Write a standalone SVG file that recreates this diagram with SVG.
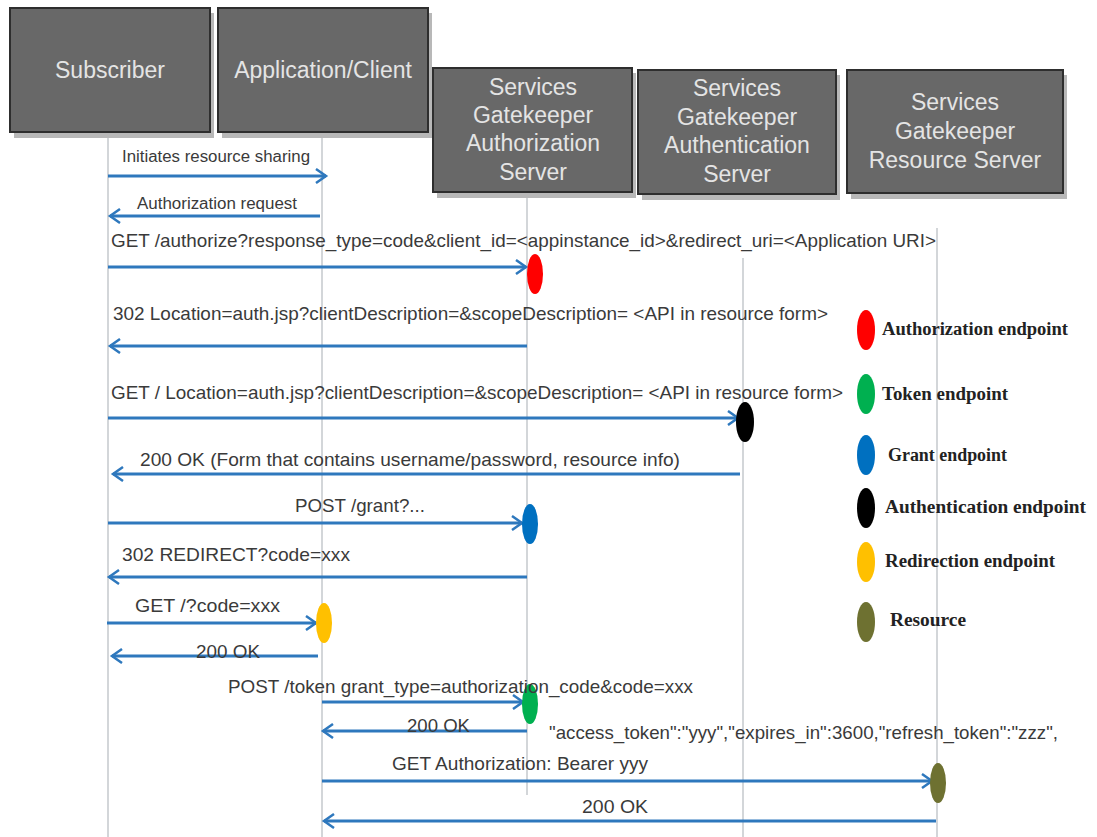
<svg xmlns="http://www.w3.org/2000/svg" width="1097" height="837" viewBox="0 0 1097 837">
<defs>
<style>
.box{fill:#686868;stroke:#2e2e2e;stroke-width:2}
.shadow{fill:#b8b8b8}
.bt{font-family:"Liberation Sans",Arial,sans-serif;font-size:23px;fill:#e4e4e4;text-anchor:middle}
.life{stroke:#c4c8cc;stroke-width:1.5;fill:none}
.msg{stroke:#2e78bd;stroke-width:3;fill:none}
.lbl{font-family:"Liberation Sans",Arial,sans-serif;font-size:19px;fill:#3a3a3a}
.sm{font-size:16px}
.leg{font-family:"Liberation Serif","Times New Roman",serif;font-size:18px;font-weight:bold;fill:#222}
</style>
<marker id="ah" markerWidth="14" markerHeight="16" refX="11" refY="8" orient="auto-start-reverse" markerUnits="userSpaceOnUse">
<path d="M1,1 L11,8 L1,15" fill="none" stroke="#2e78bd" stroke-width="2.5"/>
</marker>
</defs>
<rect width="1097" height="837" fill="#ffffff"/>

<g id="lifelines">
<line class="life" x1="108" y1="135" x2="108" y2="837"/>
<line class="life" x1="322" y1="135" x2="322" y2="837"/>
<line class="life" x1="527" y1="195" x2="527" y2="795"/>
<line class="life" x1="743" y1="258" x2="743" y2="837"/>
<line class="life" x1="937" y1="228" x2="937" y2="837"/>
</g>

<g id="subscriber">
<rect class="shadow" x="14" y="13" width="200" height="125"/>
<rect class="box" x="10" y="8" width="200" height="124"/>
<text class="bt" x="110" y="78">Subscriber</text>
</g>
<g id="client">
<rect class="shadow" x="222" y="13" width="210" height="125"/>
<rect class="box" x="218" y="8" width="210" height="124"/>
<text class="bt" x="323" y="78">Application/Client</text>
</g>
<g id="authz">
<rect class="shadow" x="437" y="73" width="199" height="125"/>
<rect class="box" x="433" y="68" width="199" height="124"/>
<text class="bt" x="533" y="95">Services</text>
<text class="bt" x="533" y="123">Gatekeeper</text>
<text class="bt" x="533" y="151">Authorization</text>
<text class="bt" x="533" y="180">Server</text>
</g>
<g id="authn">
<rect class="shadow" x="642" y="75" width="198" height="125"/>
<rect class="box" x="638" y="70" width="198" height="124"/>
<text class="bt" x="737" y="96">Services</text>
<text class="bt" x="737" y="125">Gatekeeper</text>
<text class="bt" x="737" y="153">Authentication</text>
<text class="bt" x="737" y="182">Server</text>
</g>
<g id="resource">
<rect class="shadow" x="851" y="75" width="216" height="124"/>
<rect class="box" x="847" y="70" width="216" height="123"/>
<text class="bt" x="955" y="110">Services</text>
<text class="bt" x="955" y="139">Gatekeeper</text>
<text class="bt" x="955" y="168">Resource Server</text>
</g>

<g id="connectors">
<line class="msg" x1="108" y1="176" x2="326" y2="176" marker-end="url(#ah)"/>
<line class="msg" x1="320" y1="216" x2="110" y2="216" marker-end="url(#ah)"/>
<line class="msg" x1="108" y1="267" x2="526" y2="267" marker-end="url(#ah)"/>
<line class="msg" x1="527" y1="346" x2="110" y2="346" marker-end="url(#ah)"/>
<line class="msg" x1="108" y1="418" x2="738" y2="418" marker-end="url(#ah)"/>
<line class="msg" x1="740" y1="474" x2="113" y2="474" marker-end="url(#ah)"/>
<line class="msg" x1="108" y1="523" x2="522" y2="523" marker-end="url(#ah)"/>
<line class="msg" x1="527" y1="577" x2="109" y2="577" marker-end="url(#ah)"/>
<line class="msg" x1="107" y1="623" x2="316" y2="623" marker-end="url(#ah)"/>
<line class="msg" x1="318" y1="656" x2="112" y2="656" marker-end="url(#ah)"/>
<line class="msg" x1="322" y1="702" x2="523" y2="702" marker-end="url(#ah)"/>
<line class="msg" x1="527" y1="731" x2="323" y2="731" marker-end="url(#ah)"/>
<line class="msg" x1="322" y1="781" x2="932" y2="781" marker-end="url(#ah)"/>
<line class="msg" x1="936" y1="821" x2="324" y2="821" marker-end="url(#ah)"/>
</g>

<g id="endpoints">
<ellipse cx="535" cy="274" rx="8" ry="20" fill="#ff0000"/>
<ellipse cx="745" cy="422" rx="9" ry="20" fill="#000000"/>
<ellipse cx="530" cy="524" rx="8" ry="20" fill="#0070c0"/>
<ellipse cx="324" cy="623" rx="8" ry="20" fill="#ffc000"/>
<ellipse cx="530" cy="704" rx="8" ry="20" fill="#00b050"/>
<ellipse cx="938" cy="783" rx="8" ry="20" fill="#6e7131"/>
</g>

<g id="labels">
<text class="lbl sm" x="122" y="162" textLength="188" lengthAdjust="spacingAndGlyphs">Initiates resource sharing</text>
<text class="lbl sm" x="137" y="209" textLength="160" lengthAdjust="spacingAndGlyphs">Authorization request</text>
<text class="lbl" x="111" y="247" textLength="825" lengthAdjust="spacingAndGlyphs">GET /authorize?response_type=code&amp;client_id=&lt;appinstance_id&gt;&amp;redirect_uri=&lt;Application URI&gt;</text>
<text class="lbl" x="113" y="320" textLength="715" lengthAdjust="spacingAndGlyphs">302 Location=auth.jsp?clientDescription=&amp;scopeDescription= &lt;API in resource form&gt;</text>
<text class="lbl" x="111" y="399" textLength="732" lengthAdjust="spacingAndGlyphs">GET / Location=auth.jsp?clientDescription=&amp;scopeDescription= &lt;API in resource form&gt;</text>
<text class="lbl" x="140" y="466" textLength="540" lengthAdjust="spacingAndGlyphs">200 OK (Form that contains  username/password, resource info)</text>
<text class="lbl" x="295" y="512" textLength="130" lengthAdjust="spacingAndGlyphs">POST /grant?...</text>
<text class="lbl" x="122" y="561" textLength="228" lengthAdjust="spacingAndGlyphs">302 REDIRECT?code=xxx</text>
<text class="lbl" x="135" y="612" textLength="145" lengthAdjust="spacingAndGlyphs">GET /?code=xxx</text>
<text class="lbl" x="196" y="658" textLength="64" lengthAdjust="spacingAndGlyphs">200 OK</text>
<text class="lbl" x="228" y="693" textLength="465" lengthAdjust="spacingAndGlyphs">POST /token grant_type=authorization_code&amp;code=xxx</text>
<text class="lbl" x="407" y="732" textLength="63" lengthAdjust="spacingAndGlyphs">200 OK</text>
<text class="lbl" x="549" y="739" textLength="509" lengthAdjust="spacingAndGlyphs">"access_token":"yyy","expires_in":3600,"refresh_token":"zzz",</text>
<text class="lbl" x="392" y="770" textLength="256" lengthAdjust="spacingAndGlyphs">GET Authorization:  Bearer yyy</text>
<text class="lbl" x="582" y="813" textLength="66" lengthAdjust="spacingAndGlyphs">200 OK</text>
</g>

<g id="legend">
<ellipse cx="866" cy="330" rx="9" ry="20" fill="#ff0000"/>
<text class="leg" x="882" y="335" textLength="186" lengthAdjust="spacingAndGlyphs">Authorization endpoint</text>
<ellipse cx="866" cy="394" rx="9" ry="20" fill="#00b050"/>
<text class="leg" x="882" y="400" textLength="126" lengthAdjust="spacingAndGlyphs">Token endpoint</text>
<ellipse cx="866" cy="455" rx="9" ry="20" fill="#0070c0"/>
<text class="leg" x="888" y="461" textLength="119" lengthAdjust="spacingAndGlyphs">Grant endpoint</text>
<ellipse cx="866" cy="508" rx="9" ry="20" fill="#000000"/>
<text class="leg" x="885" y="513" textLength="201" lengthAdjust="spacingAndGlyphs">Authentication  endpoint</text>
<ellipse cx="866" cy="562" rx="9" ry="20" fill="#ffc000"/>
<text class="leg" x="885" y="567" textLength="170" lengthAdjust="spacingAndGlyphs">Redirection endpoint</text>
<ellipse cx="866" cy="622" rx="9" ry="20" fill="#6e7131"/>
<text class="leg" x="890" y="626" textLength="76" lengthAdjust="spacingAndGlyphs">Resource</text>
</g>
</svg>
